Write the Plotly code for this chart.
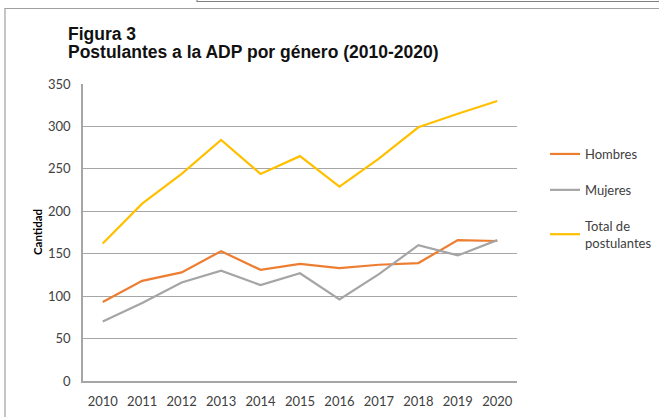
import plotly.graph_objects as go

# Postulantes a la ADP por género, 2010-2020
years = ["2010", "2011", "2012", "2013", "2014", "2015", "2016", "2017", "2018", "2019", "2020"]
hombres = [93, 118, 128, 153, 131, 138, 133, 137, 139, 166, 165]
mujeres = [70, 92, 116, 130, 113, 127, 96, 126, 160, 148, 166]
total = [162, 209, 244, 284, 244, 265, 229, 262, 299, 315, 330]

W, H = 659, 417
L, R, T, B = 83, 142, 84, 36
pw, ph = W - L - R, H - T - B

tick_font = dict(family="Lato, Liberation Sans, sans-serif", size=13, color="#404040")

fig = go.Figure()
fig.add_trace(go.Scatter(x=years, y=hombres, name="Hombres", mode="lines",
                         line=dict(color="#ED7D31", width=2.2), legendgroup="a"))
fig.add_trace(go.Scatter(x=years, y=mujeres, name="Mujeres", mode="lines",
                         line=dict(color="#A5A5A5", width=2.2), legendgroup="b"))
fig.add_trace(go.Scatter(x=years, y=total, name="Total de<br>postulantes", mode="lines",
                         line=dict(color="#FFC000", width=2.2), legendgroup="c"))


def px_x(x):
    return (x - L) / pw


def px_y(y):
    return 1 - (y - T) / ph


# outer frame of the page cut-out (only its top and left edges are in view)
fig.add_shape(type="rect", xref="paper", yref="paper",
              x0=px_x(5), x1=px_x(W + 20), y0=px_y(8.5), y1=px_y(H + 20),
              line=dict(color="#A0A0A0", width=1.2), fillcolor="rgba(0,0,0,0)", layer="above")
fig.add_shape(type="rect", xref="paper", yref="paper",
              x0=px_x(197), x1=px_x(W + 20), y0=px_y(-20), y1=px_y(1.5),
              line=dict(color="#808080", width=1.2), fillcolor="rgba(0,0,0,0)", layer="above")

title_font = dict(family="Liberation Sans, Arial, sans-serif", size=17.5, color="#111111")
fig.add_annotation(text="<b>Figura 3</b>", xref="paper", yref="paper",
                   x=px_x(66), y=px_y(22), xanchor="left", yanchor="top", showarrow=False,
                   font=title_font)
fig.add_annotation(text="<b>Postulantes a la ADP por género (2010-2020)</b>", xref="paper", yref="paper",
                   x=px_x(66), y=px_y(40), xanchor="left", yanchor="top", showarrow=False,
                   font=title_font)
fig.add_annotation(text="<b>Cantidad</b>", xref="paper", yref="paper",
                   x=px_x(37), y=px_y(232), xanchor="center", yanchor="middle",
                   textangle=-90, showarrow=False,
                   font=dict(family="Lato, Liberation Sans, sans-serif", size=11.5, color="#000000"))

fig.update_layout(
    width=W, height=H,
    margin=dict(l=L, r=R, t=T, b=B, autoexpand=False),
    paper_bgcolor="white", plot_bgcolor="white",
    showlegend=True,
    legend=dict(x=px_x(545), y=px_y(139), xanchor="left", yanchor="top",
                font=dict(family="Lato, Liberation Sans, sans-serif", size=13, color="#404040"),
                itemwidth=30, tracegroupgap=16, traceorder="grouped",
                bgcolor="rgba(0,0,0,0)"),
    xaxis=dict(type="category", range=[-0.5, 10.5], showgrid=False, automargin=False,
               showline=True, linecolor="#A6A6A6", linewidth=1.5,
               ticks="", tickfont=tick_font, ticklabelstandoff=8),
    yaxis=dict(range=[0, 350], dtick=50, showgrid=True, gridcolor="#A6A6A6", gridwidth=1.2,
               showline=True, linecolor="#A6A6A6", linewidth=1.5, automargin=False,
               zeroline=False, ticks="", tickfont=tick_font, ticklabelstandoff=8),
)

# drop the default 8px body margin so the figure sits at the window origin
fig.write_html("out.html", config={"displayModeBar": False},
               post_script="document.body.style.margin='0';")
